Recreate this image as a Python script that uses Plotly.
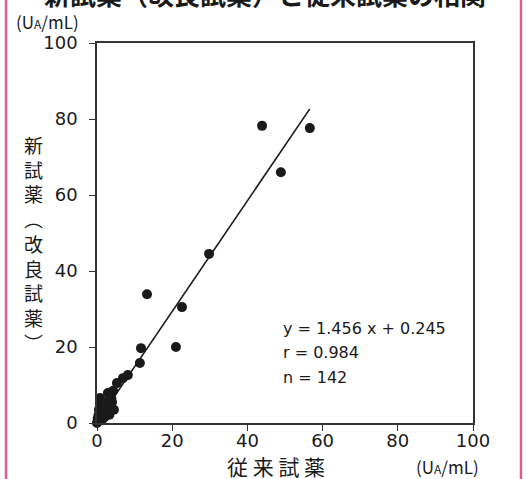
import plotly.graph_objects as go

# --- data ---
x_conv = [43.9, 56.6, 48.9, 29.8, 22.6, 13.3, 21.0, 11.7, 11.4, 8.2, 6.9, 5.3,
          3.5, 3.2, 3.5, 0.8, 2.9, 4.0, 4.3, 2.2, 1.5, 1.0, 0.6, 0.3, 0.1,
          1.8, 2.5, 3.0, 1.2, 0.4, 0.9, 2.0, 3.8, 1.6, 0.2, 2.7, 1.3, 0.7,
          0.0, 0.5, 1.1, 2.4, 3.3, 4.5, 0.3]
y_new = [78.2, 77.6, 66.0, 44.5, 30.5, 33.9, 20.0, 19.7, 15.8, 12.6, 11.8, 10.5,
         7.9, 6.0, 4.2, 6.6, 7.9, 5.5, 8.5, 3.2, 2.4, 1.6, 1.0, 0.5, 0.2,
         4.5, 5.0, 3.6, 3.0, 2.0, 4.0, 1.5, 6.5, 2.0, 1.2, 2.6, 0.8, 2.8,
         0.0, 3.5, 5.2, 4.0, 2.2, 3.5, 0.8]

slope = 1.456
intercept = 0.245
line_x = [0.0, 56.6]
line_y = [slope * v + intercept for v in line_x]

x_ticks = [0, 20, 40, 60, 80, 100]
y_ticks = [0, 20, 40, 60, 80, 100]

title_text = "新試薬（改良試薬）と従来試薬の相関"
y_title = ["新", "試", "薬", "︵", "改", "良", "試", "薬", "︶"]
x_title = "従 来 試 薬"
unit_text = "(U<span style='font-size:12px'>A</span>/mL)"
stats = ["y = 1.456 x + 0.245", "r = 0.984", "n = 142"]

FONT = "Noto Sans CJK JP, Noto Sans, sans-serif"
NUMFONT = "DejaVu Sans, sans-serif"
INK = "#1a1a1a"
PINK = "#d9608c"

fig = go.Figure()
fig.add_trace(go.Scatter(x=line_x, y=line_y, mode="lines",
                         line=dict(color=INK, width=1.6), hoverinfo="skip"))
fig.add_trace(go.Scatter(x=x_conv, y=y_new, mode="markers", cliponaxis=False,
                         marker=dict(color=INK, size=10, line=dict(width=0))))

L, R, T, B = 97, 53, 43, 56
W, H = 526, 479
pw, ph = W - L - R, H - T - B

def px_x(p):
    return (p - L) / pw

def px_y(p):
    return (H - B - p) / ph

annotations = []
annotations.append(dict(text="<b>" + title_text + "</b>", x=px_x(265), y=px_y(-6),
                        xref="paper", yref="paper", showarrow=False,
                        xanchor="center", yanchor="middle",
                        font=dict(size=26, color=INK, family=FONT)))
annotations.append(dict(text="<br>".join(y_title), x=px_x(33), y=px_y(243),
                        xref="paper", yref="paper", showarrow=False,
                        xanchor="center", yanchor="middle",
                        font=dict(size=19, color=INK, family=FONT)))
annotations.append(dict(text=x_title, x=px_x(276), y=px_y(466),
                        xref="paper", yref="paper", showarrow=False,
                        xanchor="center", yanchor="middle",
                        font=dict(size=21, color=INK, family=FONT)))
annotations.append(dict(text=unit_text, x=px_x(14), y=px_y(21),
                        xref="paper", yref="paper", showarrow=False,
                        xanchor="left", yanchor="middle",
                        font=dict(size=17, color=INK, family=FONT)))
annotations.append(dict(text=unit_text, x=px_x(414), y=px_y(467),
                        xref="paper", yref="paper", showarrow=False,
                        xanchor="left", yanchor="middle",
                        font=dict(size=17, color=INK, family=FONT)))
for i, s in enumerate(stats):
    annotations.append(dict(text=s, x=px_x(281), y=px_y(328 + 24.5 * i),
                            xref="paper", yref="paper", showarrow=False,
                            xanchor="left", yanchor="middle",
                            font=dict(size=16, color=INK, family=NUMFONT)))

shapes = [
    dict(type="line", xref="paper", yref="paper", x0=px_x(6), x1=px_x(6),
         y0=px_y(0), y1=px_y(H), line=dict(color=PINK, width=2.5)),
    dict(type="line", xref="paper", yref="paper", x0=px_x(521), x1=px_x(521),
         y0=px_y(0), y1=px_y(H), line=dict(color=PINK, width=2.5)),
]

axis_common = dict(range=[0, 100], showgrid=False, zeroline=False, showline=True,
                   mirror=True, linecolor="#333333", linewidth=1.5,
                   ticks="outside", ticklen=6, tickwidth=1.3, tickcolor="#333333",
                   tickfont=dict(size=18, color=INK, family=NUMFONT))

fig.update_layout(
    width=W, height=H,
    margin=dict(l=L, r=R, t=T, b=B),
    paper_bgcolor="white", plot_bgcolor="white",
    showlegend=False,
    xaxis=dict(axis_common, tickvals=x_ticks, ticktext=[str(v) for v in x_ticks],
               ticklabelstandoff=-5),
    yaxis=dict(axis_common, tickvals=y_ticks, ticktext=[str(v) for v in y_ticks],
               ticklabelstandoff=8),
    annotations=annotations,
    shapes=shapes,
)

fig.write_html("out.html", config={"displayModeBar": False},
               post_script="document.body.style.margin='0';document.body.style.padding='0';")
